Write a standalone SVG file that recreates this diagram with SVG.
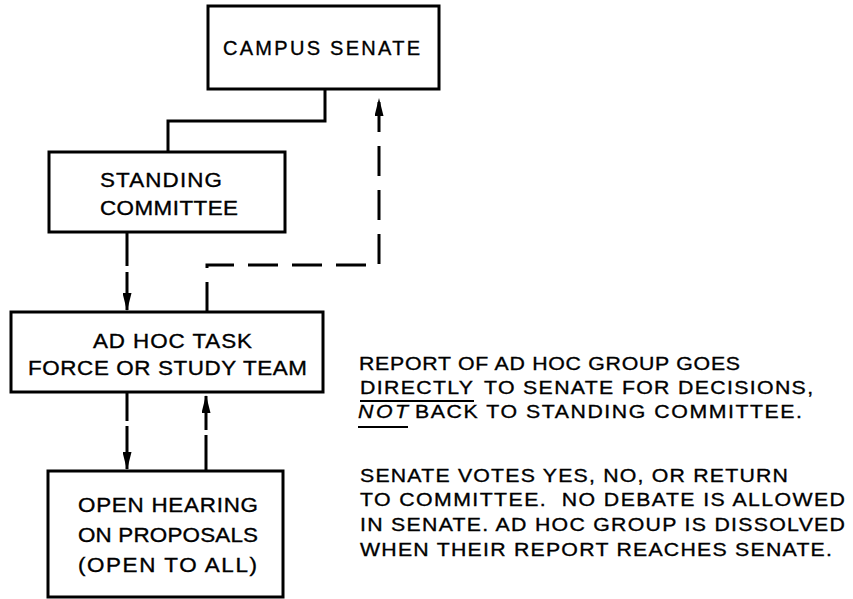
<svg xmlns="http://www.w3.org/2000/svg" width="853" height="599" viewBox="0 0 853 599">
  <style>
    .box { fill: #fff; stroke: #000; stroke-width: 3; }
    .lbl { font-family: "Liberation Sans", Arial, sans-serif; font-size: 20px; fill: #000; stroke: #000; stroke-width: 0.35; }
    .note { font-family: "Liberation Sans", Arial, sans-serif; font-size: 19px; fill: #000; stroke: #000; stroke-width: 0.35; }
    .wire { fill: none; stroke: #000; stroke-width: 3; }
    .dash { stroke-dasharray: 30 14; }
    .ul { stroke: #000; stroke-width: 2; }
  </style>
  <defs>
    <marker id="head" markerUnits="userSpaceOnUse" viewBox="0 0 18 9" markerWidth="18" markerHeight="9" refX="17" refY="4.5" orient="auto">
      <path d="M0,0 L18,4.5 L0,9 Z" fill="#000"/>
    </marker>
  </defs>
  <rect width="853" height="599" fill="#fff"/>

  <g id="connectors">
    <!-- senate to standing committee -->
    <path class="wire" d="M325,89 V121 H168 V152"/>
    <!-- standing committee down to ad hoc group -->
    <path class="wire" d="M127,232 V310" stroke-dasharray="34 6 100" marker-end="url(#head)"/>
    <!-- ad hoc report goes directly back to senate -->
    <path class="wire dash" d="M207,312 V265 H379 V99" marker-end="url(#head)"/>
    <!-- ad hoc group to open hearing -->
    <path class="wire" d="M127,393 V469" stroke-dasharray="28 5 100" marker-end="url(#head)"/>
    <!-- open hearing back to ad hoc group -->
    <path class="wire" d="M206,471 V396" stroke-dasharray="36 5 100" marker-end="url(#head)"/>
  </g>

  <!-- labels are set slightly wide: each text is stretched 1.12x horizontally -->
  <g id="campus-senate">
    <rect class="box" x="208" y="6" width="231" height="83"/>
    <text class="lbl" x="223" y="55" font-size="22" textLength="197" lengthAdjust="spacing">CAMPUS SENATE</text>
  </g>

  <g id="standing-committee">
    <rect class="box" x="49" y="152" width="236" height="80"/>
    <text class="lbl" transform="translate(100,187) scale(1.12,1)" textLength="108.9" lengthAdjust="spacing">STANDING</text>
    <text class="lbl" transform="translate(100,215) scale(1.12,1)" textLength="123.2" lengthAdjust="spacing">COMMITTEE</text>
  </g>

  <g id="ad-hoc-group">
    <rect class="box" x="11" y="312" width="312" height="80"/>
    <text class="lbl" transform="translate(93,348) scale(1.12,1)" textLength="142" lengthAdjust="spacing">AD HOC TASK</text>
    <text class="lbl" transform="translate(28,375) scale(1.12,1)" textLength="249.1" lengthAdjust="spacing">FORCE OR STUDY TEAM</text>
  </g>

  <g id="open-hearing">
    <rect class="box" x="48" y="471" width="235" height="126"/>
    <text class="lbl" transform="translate(78,512) scale(1.12,1)" textLength="160.7" lengthAdjust="spacing">OPEN HEARING</text>
    <text class="lbl" transform="translate(78,542) scale(1.12,1)" textLength="160.7" lengthAdjust="spacing">ON PROPOSALS</text>
    <text class="lbl" transform="translate(78,572) scale(1.12,1)" textLength="159.8" lengthAdjust="spacing">(OPEN TO ALL)</text>
  </g>

  <g id="notes">
    <text class="note" transform="translate(359,370) scale(1.12,1)" textLength="340.2" lengthAdjust="spacing">REPORT OF AD HOC GROUP GOES</text>
    <text class="note" transform="translate(360,394) scale(1.12,1)" textLength="100.9" lengthAdjust="spacing">DIRECTLY</text>
    <line class="ul" x1="360" y1="401" x2="474" y2="401"/>
    <text class="note" transform="translate(484,394) scale(1.12,1)" textLength="293.8" lengthAdjust="spacing">TO SENATE FOR DECISIONS,</text>
    <text class="note" transform="translate(358,418) scale(1.12,1)" font-style="italic" textLength="44.6" lengthAdjust="spacing">NOT</text>
    <line class="ul" x1="358" y1="427" x2="408" y2="427"/>
    <text class="note" transform="translate(415,418) scale(1.12,1)" textLength="345.5" lengthAdjust="spacing">BACK TO STANDING COMMITTEE.</text>

    <text class="note" transform="translate(360,482) scale(1.12,1)" textLength="382.1" lengthAdjust="spacing">SENATE VOTES YES, NO, OR RETURN</text>
    <text class="note" transform="translate(360,506) scale(1.12,1)" textLength="433" lengthAdjust="spacing" xml:space="preserve">TO COMMITTEE.  NO DEBATE IS ALLOWED</text>
    <text class="note" transform="translate(360,531) scale(1.12,1)" textLength="433" lengthAdjust="spacing">IN SENATE. AD HOC GROUP IS DISSOLVED</text>
    <text class="note" transform="translate(360,556) scale(1.12,1)" textLength="421.4" lengthAdjust="spacing">WHEN THEIR REPORT REACHES SENATE.</text>
  </g>
</svg>
